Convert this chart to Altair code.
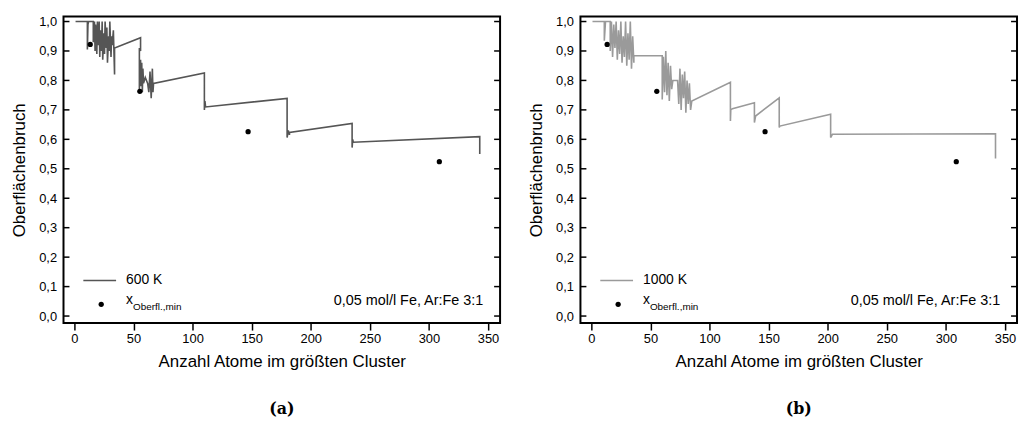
import altair as alt
import pandas as pd

# ---- data ----
x600 = [1, 11, 11, 11.5, 12, 16, 16, 17, 17.5, 18, 19, 19.5, 20, 21, 21.5, 22, 23, 23.5, 24, 25, 25.5, 26,
        27, 27.5, 28, 29, 29.5, 30, 31, 31.5, 32, 33, 34, 34, 56, 56, 55, 55, 56, 56.5, 57, 57.5, 58, 58.5,
        60, 62, 63, 64, 65, 66, 66.5, 67, 110, 110, 110.5, 111, 180, 180, 181, 182, 182, 235, 235, 235.5,
        236, 343, 343]
y600 = [1.0, 1.0, 0.905, 0.99, 1.0, 1.0, 0.93, 1.0, 0.90, 0.99, 0.89, 1.0, 0.92, 1.0, 0.88, 0.97, 0.90,
        1.0, 0.87, 0.96, 0.89, 1.0, 0.91, 0.98, 0.86, 0.95, 0.90, 1.0, 0.88, 0.95, 0.92, 0.97, 0.82, 0.91,
        0.945, 0.90, 0.91, 0.77, 0.87, 0.78, 0.86, 0.76, 0.84, 0.79, 0.81, 0.79, 0.76, 0.83, 0.74, 0.84,
        0.76, 0.79, 0.825, 0.70, 0.73, 0.71, 0.739, 0.606, 0.63, 0.615, 0.623, 0.654, 0.572, 0.60, 0.59,
        0.609, 0.55]

x1000 = [1, 11, 11, 12, 16, 16, 17, 18, 19, 20, 21, 22, 23, 24, 25, 26, 27, 28, 29, 30, 31, 32, 33, 34,
         35, 36, 36, 60, 60, 61, 62, 63, 64, 65, 66, 67, 68, 69, 73, 74, 75, 76, 77, 78, 79, 80, 81, 82,
         83, 84, 85, 117.7, 117.7, 118, 119.4, 138, 138, 139, 159, 159, 159.5, 202.5, 202.5, 204, 342, 342]
y1000 = [1.0, 1.0, 0.935, 1.0, 1.0, 0.90, 1.0, 0.88, 0.99, 0.91, 1.0, 0.87, 0.97, 0.89, 1.0, 0.86, 0.95,
         0.88, 1.0, 0.85, 0.96, 0.87, 1.0, 0.84, 0.95, 0.86, 0.884, 0.884, 0.735, 0.88, 0.76, 0.90, 0.75,
         0.86, 0.73, 0.85, 0.77, 0.80, 0.80, 0.72, 0.84, 0.70, 0.82, 0.74, 0.83, 0.69, 0.80, 0.72, 0.79,
         0.70, 0.73, 0.794, 0.662, 0.70, 0.704, 0.724, 0.657, 0.679, 0.741, 0.64, 0.645, 0.685, 0.606,
         0.617, 0.619, 0.535]

xmin_x = [13.4, 55.4, 147.0, 308.8]
xmin_y = [0.922, 0.763, 0.626, 0.524]

xticks = [0, 50, 100, 150, 200, 250, 300, 350]
yticks = [0.0, 0.1, 0.2, 0.3, 0.4, 0.5, 0.6, 0.7, 0.8, 0.9, 1.0]

W, H = 440, 309
FONT = "Liberation Sans"

XAXIS = alt.Axis(
    values=xticks, title="Anzahl Atome im größten Cluster", grid=False, domain=False,
    tickSize=7, tickColor="black", tickWidth=1.5, labelPadding=3, labelFontSize=13,
    labelColor="black", labelFont=FONT, titleFont=FONT, titleFontSize=17,
    titleFontWeight="normal", titleColor="black", titlePadding=8)
YAXIS = alt.Axis(
    values=yticks, title="Oberflächenbruch", grid=False, domain=False, tickSize=0,
    labelPadding=7, labelFontSize=13, labelColor="black", labelFont=FONT,
    labelExpr="replace(format(datum.value, '.1f'), '.', ',')",
    titleFont=FONT, titleFontSize=17, titleFontWeight="normal", titleColor="black",
    titlePadding=10)


def panel(xs, ys, color, label, caption):
    xsc = alt.Scale(domain=[-9.2, 360.2], nice=False, zero=False)
    ysc = alt.Scale(domain=[-0.024, 1.017], nice=False, zero=False)
    line_df = pd.DataFrame({"x": xs, "y": ys, "o": list(range(len(xs)))})
    pts_df = pd.DataFrame({"x": xmin_x, "y": xmin_y})
    tick_df = pd.DataFrame({"y": yticks})
    one = pd.DataFrame({"k": [0]})

    X = alt.X("x:Q", scale=xsc, axis=XAXIS)
    Y = alt.Y("y:Q", scale=ysc, axis=YAXIS)

    line = alt.Chart(line_df).mark_line(color=color, strokeWidth=1.6).encode(
        x=X, y=Y, order="o:Q")
    pts = alt.Chart(pts_df).mark_circle(color="black", size=28, opacity=1).encode(x=X, y=Y)
    lt = alt.Chart(tick_df).mark_rule(color="black", strokeWidth=1.5).encode(
        y=Y, x=alt.value(0), x2=alt.value(6))
    rt = alt.Chart(tick_df).mark_rule(color="black", strokeWidth=1.5).encode(
        y=Y, x=alt.value(W - 6), x2=alt.value(W))

    leg_line = alt.Chart(one).mark_rule(color=color, strokeWidth=1.6).encode(
        x=alt.value(20), x2=alt.value(53), y=alt.value(266))
    leg_txt = alt.Chart(one).mark_text(align="left", baseline="middle", fontSize=14, font=FONT,
                                       color="black").encode(
        x=alt.value(63), y=alt.value(266), text=alt.value(label))
    leg_dot = alt.Chart(one).mark_circle(color="black", size=28, opacity=1).encode(
        x=alt.value(38), y=alt.value(290))
    leg_x = alt.Chart(one).mark_text(align="left", baseline="middle", fontSize=14, font=FONT,
                                     color="black").encode(
        x=alt.value(63), y=alt.value(286), text=alt.value("x"))
    leg_sub = alt.Chart(one).mark_text(align="left", baseline="middle", fontSize=10, font=FONT,
                                       color="black").encode(
        x=alt.value(70), y=alt.value(293), text=alt.value("Oberfl.,min"))
    note = alt.Chart(one).mark_text(align="right", baseline="middle", fontSize=14.5, font=FONT,
                                    color="black").encode(
        x=alt.value(423), y=alt.value(287), text=alt.value("0,05 mol/l Fe, Ar:Fe 3:1"))

    return alt.layer(line, pts, lt, rt, leg_line, leg_txt, leg_dot, leg_x, leg_sub, note).properties(
        width=W, height=H,
        title=alt.TitleParams(caption, orient="bottom", font="DejaVu Serif", fontWeight="bold",
                              fontSize=16, color="black", offset=32))


left = panel(x600, y600, "#555555", "600 K", "(a)")
right = panel(x1000, y1000, "#9a9a9a", "1000 K", "(b)")

chart = alt.hconcat(left, right, spacing=24).properties(
    padding={"left": 9, "top": 13, "right": 0, "bottom": 0},
    background="white",
).configure_view(stroke="black", strokeWidth=2)

chart.save("out.html", embed_options={"renderer": "svg", "actions": False})
